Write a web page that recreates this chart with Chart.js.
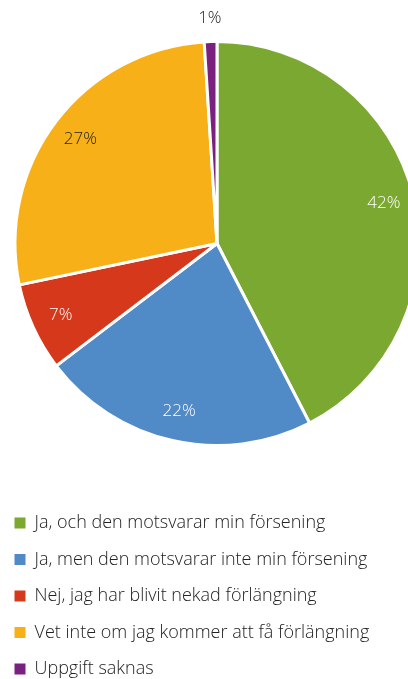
<!DOCTYPE html>
<html>
<head>
<meta charset="utf-8">
<script src="https://cdn.jsdelivr.net/npm/chart.js@4"></script>
<style>
  html, body { margin: 0; padding: 0; background: #fff; overflow: hidden; width: 408px; height: 679px; }
  #wrap { position: absolute; left: -4px; top: -38px; width: 442px; height: 730px; }
</style>
</head>
<body>
<div id="wrap"><canvas id="pie"></canvas></div>
<script>
const labels = [
  'Ja, och den motsvarar min försening',
  'Ja, men den motsvarar inte min försening',
  'Nej, jag har blivit nekad förlängning',
  'Vet inte om jag kommer att få förlängning',
  'Uppgift saknas'
];
const shares = [42, 22, 7, 27, 1];
const colors = ['#7ba830', '#508ac7', '#d5381a', '#f8b018', '#7a2180'];
const labelColors = ['#ffffff', '#ffffff', '#ffffff', '#222222', '#222222'];

const FONT = "'Open Sans', 'Noto Sans', sans-serif";

// skriver procenttalen i/utanför tårtbitarna
const pctLabels = {
  id: 'pctLabels',
  afterDatasetsDraw(chart) {
    const ctx = chart.ctx;
    const meta = chart.getDatasetMeta(0);
    ctx.save();
    ctx.font = '300 17px ' + FONT;
    ctx.textAlign = 'center';
    ctx.textBaseline = 'middle';
    meta.data.forEach((arc, i) => {
      const p = arc.getProps(['x', 'y', 'startAngle', 'endAngle', 'outerRadius'], true);
      const mid = (p.startAngle + p.endAngle) / 2;
      const r = shares[i] < 3 ? p.outerRadius + 23 : p.outerRadius * 0.85;
      ctx.fillStyle = labelColors[i];
      ctx.fillText(shares[i] + '%', p.x + Math.cos(mid) * r, p.y + Math.sin(mid) * r);
    });
    ctx.restore();
  }
};

new Chart(document.getElementById('pie'), {
  type: 'pie',
  data: {
    labels: labels,
    datasets: [{
      data: shares,
      backgroundColor: colors,
      borderColor: '#ffffff',
      borderWidth: 3,
      radius: 202
    }]
  },
  options: {
    responsive: true,
    maintainAspectRatio: false,
    animation: false,
    layout: { padding: { top: 29.5, bottom: 4 } },
    plugins: {
      tooltip: { enabled: false },
      legend: {
        position: 'bottom',
        align: 'start',
        labels: {
          boxWidth: 11,
          boxHeight: 11,
          padding: 18.5,
          color: '#222222',
          font: { family: FONT, size: 18, weight: '300' },
          generateLabels(chart) {
            const items = Chart.overrides.pie.plugins.legend.labels.generateLabels(chart);
            return items.map(it => Object.assign(it, { lineWidth: 0, strokeStyle: 'rgba(0,0,0,0)' }));
          }
        }
      }
    }
  },
  plugins: [pctLabels]
});
</script>
</body>
</html>
